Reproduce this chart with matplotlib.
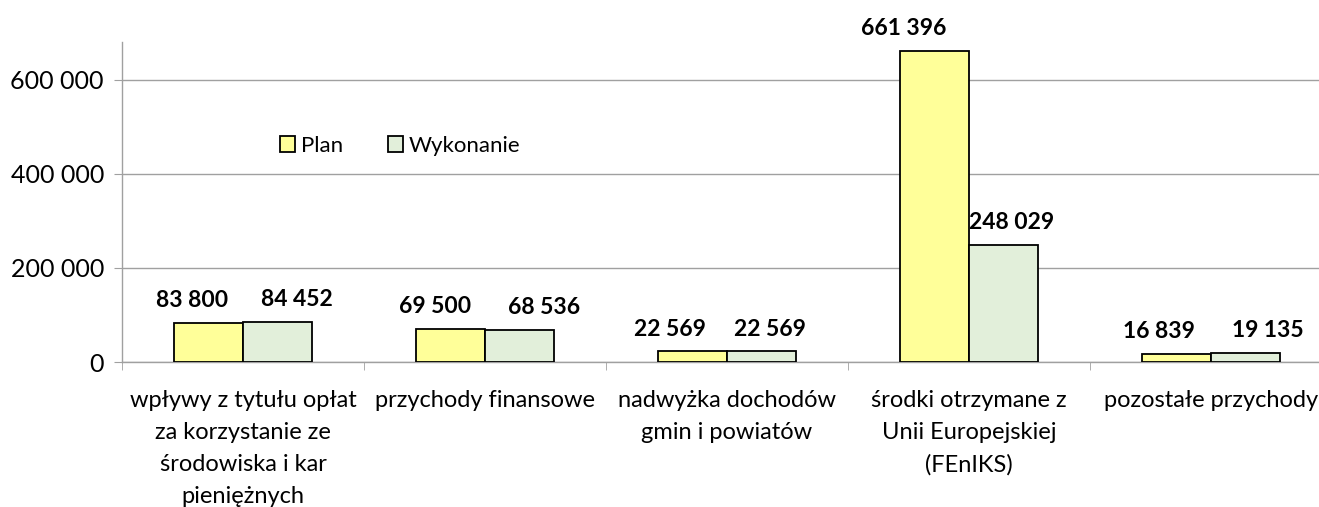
import numpy as np
import matplotlib
matplotlib.use("Agg")
import matplotlib.pyplot as plt
from matplotlib.ticker import FuncFormatter, FixedLocator

plt.rcParams['font.family'] = ['Lato', 'DejaVu Sans']

categories = ["wpływy z tytułu opłat\nza korzystanie ze\nśrodowiska i kar\npieniężnych",
              "przychody finansowe",
              "nadwyżka dochodów\ngmin i powiatów",
              "środki otrzymane z\nUnii Europejskiej\n(FEnIKS)",
              "pozostałe przychody"]
plan = [83800, 69500, 22569, 661396, 16839]
wykonanie = [84452, 68536, 22569, 248029, 19135]

# horizontal nudges of the value labels (points), as placed in the original
plan_dx = [-12, -11, -16, -22, -13]
wyk_dx = [14, 18, 6, 6, 16]

def fmt(v):
    return f"{int(v):,}".replace(",", " ")

fig = plt.figure(figsize=(13.19, 5.07), dpi=100)
ax = fig.add_axes([122/1319, 1 - 362/507, (1332-122)/1319, (362-42)/507])
ax.spines["bottom"].set_clip_on(False)

x = np.arange(len(categories))
w = 0.285
b1 = ax.bar(x - w/2, plan, w, color="#FFFF99", edgecolor="black", linewidth=1.3, label="Plan", zorder=3)
b2 = ax.bar(x + w/2, wykonanie, w, color="#E2EFDA", edgecolor="black", linewidth=1.3, label="Wykonanie", zorder=3)

for bars, vals, dxs in ((b1, plan, plan_dx), (b2, wykonanie, wyk_dx)):
    for r, v, dx in zip(bars, vals, dxs):
        ax.annotate(fmt(v), (r.get_x() + r.get_width()/2, v), xytext=(dx, 8.5),
                    textcoords="offset points", ha="center", va="bottom",
                    fontsize=16.5, fontweight="bold")

ax.set_xlim(-0.5, len(categories) - 0.5)
ax.set_ylim(0, 680000)
ax.set_yticks([0, 200000, 400000, 600000])
ax.yaxis.set_major_formatter(FuncFormatter(lambda v, p: fmt(v)))
ax.yaxis.grid(True, color="#A0A0A0", linewidth=1, zorder=0)
ax.tick_params(axis="y", labelsize=18, length=6, color="#A0A0A0", pad=7)

ax.set_xticks(x)
ax.set_xticklabels(categories, fontsize=17, linespacing=1.65)
ax.tick_params(axis="x", length=0, pad=20)
ax.xaxis.set_minor_locator(FixedLocator(np.arange(-0.5, len(categories), 1)))
ax.tick_params(axis="x", which="minor", length=6, color="#A0A0A0")

for s in ("top", "right"):
    ax.spines[s].set_visible(False)
for s in ("left", "bottom"):
    ax.spines[s].set_color("#A0A0A0")
    ax.spines[s].set_linewidth(1)

ax.legend(loc="center left", bbox_to_anchor=(0.114, 0.675), ncol=2, frameon=False,
          fontsize=16, handlelength=0.7, handleheight=0.7, handletextpad=0.25, columnspacing=2.0)

fig.savefig("out.png", dpi=100)
